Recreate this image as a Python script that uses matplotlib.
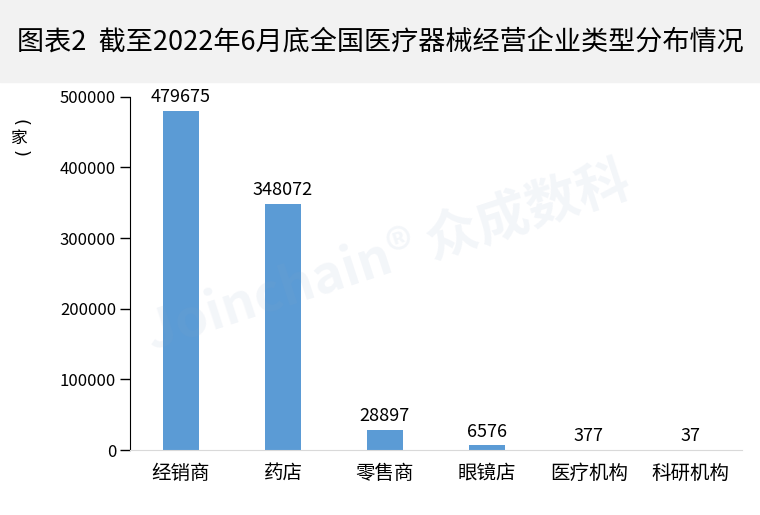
import matplotlib
matplotlib.use("Agg")
import matplotlib.pyplot as plt
from matplotlib.patches import Rectangle

plt.rcParams['font.family'] = ['Noto Sans CJK SC', 'DejaVu Sans']

# data
categories = ["经销商", "药店", "零售商", "眼镜店", "医疗机构", "科研机构"]
counts = [479675, 348072, 28897, 6576, 377, 37]
yticks = [0, 100000, 200000, 300000, 400000, 500000]

fig = plt.figure(figsize=(7.6, 5.15), dpi=100)

# grey title band
fig.patches.append(Rectangle((0, 0.841), 1, 0.159, transform=fig.transFigure,
                             color="#f2f2f2", zorder=0))
fig.text(0.5, 0.918, "图表2  截至2022年6月底全国医疗器械经营企业类型分布情况",
         ha="center", va="center", fontsize=19.5, color="black")

ax = fig.add_axes([0.171, 0.126, 0.805, 0.686])
x = range(len(categories))
ax.bar(x, counts, width=0.35, color="#5b9bd5", zorder=2)
for xi, v in zip(x, counts):
    ax.text(xi, v + 7000, str(v), ha="center", va="bottom", fontsize=13)

ax.set_xlim(-0.5, len(categories) - 0.5)
ax.set_ylim(0, 500000)
ax.set_yticks(yticks)
ax.set_yticklabels([str(t) for t in yticks], fontsize=12)
ax.set_xticks(list(x))
ax.set_xticklabels(categories, fontsize=14)
ax.tick_params(axis="x", length=0, pad=9)
ax.tick_params(axis="y", length=7, width=1, direction="out", pad=3)

for s in ["top", "right"]:
    ax.spines[s].set_visible(False)
ax.spines["left"].set_color("black")
ax.spines["bottom"].set_color("#d9d9d9")

# vertical unit label (家)
fig.text(0.026, 0.763, "(", ha="center", va="center", fontsize=13,
         rotation=-90, family="DejaVu Sans")
fig.text(0.026, 0.731, "家", ha="center", va="center", fontsize=12)
fig.text(0.026, 0.701, ")", ha="center", va="center", fontsize=13,
         rotation=-90, family="DejaVu Sans")

# faint watermark
fig.text(0.51, 0.5, "Joinchain® 众成数科", ha="center", va="center",
         fontsize=38, fontweight="bold", style="italic", rotation=18,
         color="#8ea6c8", alpha=0.1, zorder=5)

fig.savefig("out.png", dpi=100)
